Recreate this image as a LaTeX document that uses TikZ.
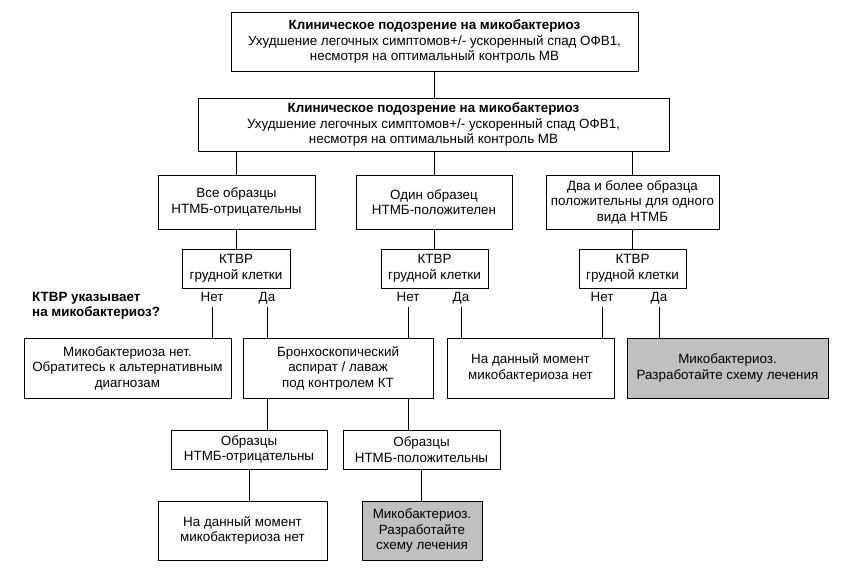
\documentclass[tikz,border=0pt]{standalone}
\usepackage{fontspec}
\setmainfont{Liberation Sans}
\definecolor{boxgray}{RGB}{192,192,194}
\begin{document}
\begin{tikzpicture}[x=1pt,y=-1pt,
  every node/.style={font=\fontsize{13.4}{15.5}\selectfont, inner sep=0pt},
  box/.style={draw, line width=0.9pt, rectangle, align=center},
  gbox/.style={box, fill=boxgray},
  lbl/.style={inner sep=0pt, anchor=base, text height=9.5pt, text depth=5pt},
  conn/.style={line width=0.9pt}]
\useasboundingbox (0,0) rectangle (849,575);
% row 1-2
\node[box, minimum width=407pt, minimum height=59pt] (top) at (434.5,41.5)
  {\textbf{Клиническое подозрение на микобактериоз}\\Ухудшение легочных симптомов+/- ускоренный спад ОФВ1,\\несмотря на оптимальный контроль МВ};
\node[box, minimum width=471pt, minimum height=53pt] (main) at (433.5,124.5)
  {\textbf{Клиническое подозрение на микобактериоз}\\Ухудшение легочных симптомов+/- ускоренный спад ОФВ1,\\несмотря на оптимальный контроль МВ};
% row 3
\node[box, minimum width=157pt, minimum height=54pt] (rA) at (236.5,202) {Все образцы\\НТМБ-отрицательны};
\node[box, minimum width=156pt, minimum height=54pt] (rB) at (434,202) {Один образец\\НТМБ-положителен};
\node[box, minimum width=173pt, minimum height=54pt] (rC) at (632.5,202) {Два и более образца\\положительны для одного\\вида НТМБ};
% KTBR
\node[box, minimum width=108pt, minimum height=39pt] (kA) at (236,268.5) {КТВР\\грудной клетки};
\node[box, minimum width=107pt, minimum height=39pt] (kB) at (434.5,268.5) {КТВР\\грудной клетки};
\node[box, minimum width=107pt, minimum height=39pt] (kC) at (632.5,268.5) {КТВР\\грудной клетки};
% question
\node[anchor=north west, align=left, font=\fontsize{13.4}{15.5}\selectfont\bfseries] (q) at (32,292) {КТВР указывает\\на микобактериоз?};
% labels
\node[lbl] (nA) at (212,301.5) {Нет};
\node[lbl] (yA) at (267,301.5) {Да};
\node[lbl] (nB) at (408,301.5) {Нет};
\node[lbl] (yB) at (461,301.5) {Да};
\node[lbl] (nC) at (602,301.5) {Нет};
\node[lbl] (yC) at (659,301.5) {Да};
% row 4
\node[box, minimum width=207pt, minimum height=60pt] (d1) at (127.5,368) {Микобактериоза нет.\\Обратитесь к альтернативным\\диагнозам};
\node[box, minimum width=190pt, minimum height=60pt] (d2) at (338,368) {Бронхоскопический\\аспират / лаваж\\под контролем КТ};
\node[box, minimum width=167pt, minimum height=60pt] (d3) at (530.5,368) {На данный момент\\микобактериоза нет};
\node[gbox, minimum width=201pt, minimum height=60pt] (d4) at (727.5,368) {Микобактериоз.\\Разработайте схему лечения};
% row 5
\node[box, minimum width=156pt, minimum height=39pt] (e1) at (249,449.5) {Образцы\\НТМБ-отрицательны};
\node[box, minimum width=157pt, minimum height=39pt] (e2) at (421.5,449.5) {Образцы\\НТМБ-положительны};
% row 6
\node[box, minimum width=169pt, minimum height=59pt] (f1) at (242.5,530.5) {На данный момент\\микобактериоза нет};
\node[gbox, minimum width=120pt, minimum height=59pt] (f2) at (422,530.5) {Микобактериоз.\\Разработайте\\схему лечения};
% connectors
\draw[conn] (top.south) -- (top.south |- main.north);
\draw[conn] (main.south -| rA) -- (rA.north);
\draw[conn] (main.south -| rB) -- (rB.north);
\draw[conn] (main.south -| rC) -- (rC.north);
\draw[conn] (rA.south) -- (rA.south |- kA.north);
\draw[conn] (rB.south) -- (rB.south |- kB.north);
\draw[conn] (rC.south) -- (rC.south |- kC.north);
\draw[conn] (nA.south) -- (nA.south |- d1.north);
\draw[conn] (yA.south) -- (yA.south |- d2.north);
\draw[conn] (nB.south) -- (nB.south |- d2.north);
\draw[conn] (yB.south) -- (yB.south |- d3.north);
\draw[conn] (nC.south) -- (nC.south |- d3.north);
\draw[conn] (yC.south) -- (yC.south |- d4.north);
\draw[conn] (d2.south -| yA) -- (e1.north -| yA);
\draw[conn] (d2.south -| nB) -- (e2.north -| nB);
\draw[conn] (e1.south) -- (e1.south |- f1.north);
\draw[conn] (e2.south) -- (e2.south |- f2.north);
\end{tikzpicture}
\end{document}
